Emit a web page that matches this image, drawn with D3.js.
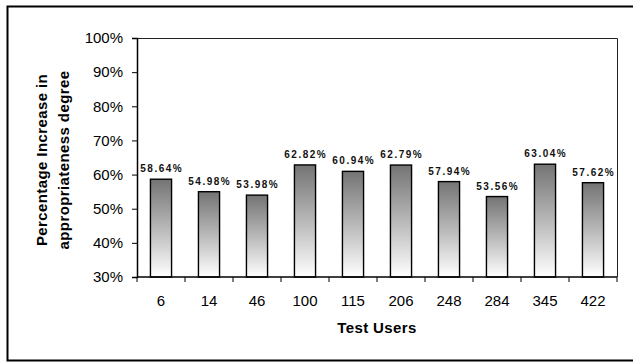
<!DOCTYPE html>
<html>
<head>
<meta charset="utf-8">
<script src="https://cdn.jsdelivr.net/npm/d3@7"></script>
<style>
  html, body { margin: 0; padding: 0; background: #fff; }
  svg { display: block; font-family: Arial, "Liberation Sans", sans-serif; }
</style>
</head>
<body>
<svg id="chart" width="633" height="362"></svg>
<script>
// Test users and the percentage increase in appropriateness degree for each
const users = ["6", "14", "46", "100", "115", "206", "248", "284", "345", "422"];
const increase = [58.64, 54.98, 53.98, 62.82, 60.94, 62.79, 57.94, 53.56, 63.04, 57.62];
const yTicks = [30, 40, 50, 60, 70, 80, 90, 100];

const svg = d3.select("#chart");
const plot = { left: 137, right: 617, top: 38, bottom: 277 };

// Outer frame
svg.append("rect")
  .attr("x", 7.5).attr("y", 6.5)
  .attr("width", 640).attr("height", 354)
  .attr("fill", "none").attr("stroke", "#000").attr("stroke-width", 2);

const x = d3.scaleBand().domain(users).range([plot.left, plot.right]).padding(0);
const y = d3.scaleLinear().domain([30, 100]).range([plot.bottom, plot.top]);

// Vertical gradient: grey at the top of each bar fading to white at its base
const grad = svg.append("defs").append("linearGradient")
  .attr("id", "barFill").attr("x1", 0).attr("y1", 0).attr("x2", 0).attr("y2", 1);
grad.append("stop").attr("offset", "0%").attr("stop-color", "#747474");
grad.append("stop").attr("offset", "50%").attr("stop-color", "#b8b8b8");
grad.append("stop").attr("offset", "100%").attr("stop-color", "#ffffff");

// Plot area border (top and right)
svg.append("path")
  .attr("d", `M${plot.left},${plot.top + 0.5}H${plot.right + 0.5}V${plot.bottom}`)
  .attr("fill", "none").attr("stroke", "#222").attr("stroke-width", 1);

// Bars
const barW = x.step() * 0.44;
svg.append("g").selectAll("rect")
  .data(users)
  .join("rect")
  .attr("x", (d) => x(d) + (x.bandwidth() - barW) / 2)
  .attr("y", (d, i) => y(increase[i]))
  .attr("width", barW)
  .attr("height", (d, i) => y(30) - y(increase[i]))
  .attr("fill", "url(#barFill)")
  .attr("stroke", "#000").attr("stroke-width", 1.4);

// Value labels
svg.append("g").selectAll("text")
  .data(users)
  .join("text")
  .attr("x", (d) => x(d) + x.bandwidth() / 2 + 0.75)
  .attr("y", (d, i) => y(increase[i]) - 7)
  .attr("text-anchor", "middle")
  .attr("font-size", 10).attr("font-weight", "bold")
  .attr("letter-spacing", 1.5)
  .attr("fill", "#111")
  .text((d, i) => increase[i].toFixed(2) + "%");

// Y axis
const yAxis = svg.append("g")
  .attr("transform", `translate(${plot.left},0)`)
  .call(d3.axisLeft(y).tickValues(yTicks).tickSize(5).tickPadding(9)
    .tickFormat((d) => d + "%"));
yAxis.select(".domain").attr("stroke", "#000").attr("stroke-width", 1.5);
yAxis.selectAll(".tick line").attr("stroke", "#000");
yAxis.selectAll(".tick text")
  .attr("font-size", 15).attr("fill", "#000")
  .attr("font-family", "Arial, 'Liberation Sans', sans-serif");

// X axis: ticks at category boundaries
const xAxisG = svg.append("g").attr("transform", `translate(0,${plot.bottom})`);
xAxisG.append("line")
  .attr("x1", plot.left).attr("x2", plot.right)
  .attr("stroke", "#000").attr("stroke-width", 1.5);
const bounds = users.map((d) => x(d)).concat([x.range()[1]]);
xAxisG.selectAll("line.tick")
  .data(bounds)
  .join("line")
  .attr("class", "tick")
  .attr("x1", (d) => d).attr("x2", (d) => d)
  .attr("y1", 0).attr("y2", 5)
  .attr("stroke", "#000");
xAxisG.selectAll("text")
  .data(users)
  .join("text")
  .attr("x", (d) => x(d) + x.bandwidth() / 2)
  .attr("y", 29)
  .attr("text-anchor", "middle")
  .attr("font-size", 15).attr("fill", "#000")
  .text((d) => d);

// Axis titles
svg.append("text")
  .attr("x", (plot.left + plot.right) / 2).attr("y", 333)
  .attr("text-anchor", "middle")
  .attr("font-size", 15).attr("font-weight", "bold")
  .attr("letter-spacing", 0.4)
  .text("Test Users");

const yTitle = svg.append("text")
  .attr("transform", "translate(0,160) rotate(-90)")
  .attr("text-anchor", "middle")
  .attr("font-size", 15).attr("font-weight", "bold")
  .attr("letter-spacing", 0.4);
yTitle.append("tspan").attr("x", 0).attr("y", 47).text("Percentage Increase in");
yTitle.append("tspan").attr("x", 0).attr("y", 69).text("appropriateness degree");
</script>
</body>
</html>
